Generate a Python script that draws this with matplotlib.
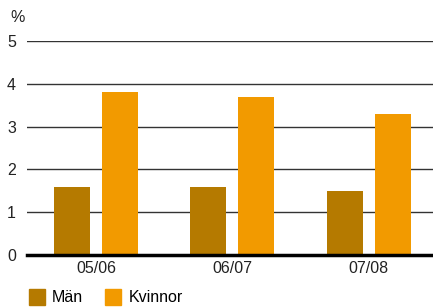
import matplotlib.pyplot as plt
import matplotlib.patches as mpatches
import numpy as np

plt.rcParams['font.family'] = ['Liberation Sans', 'DejaVu Sans']

years = ["05/06", "06/07", "07/08"]
man = [1.6, 1.6, 1.5]
kvinnor = [3.8, 3.7, 3.3]
series_names = ["Män", "Kvinnor"]
colors = ["#B57A00", "#F29A00"]

fig = plt.figure(figsize=(4.33, 3.07), dpi=100)
ax = fig.add_axes([27 / 433, 1 - 255 / 307, 406 / 433, 214 / 307])

x = np.arange(len(years))
w = 0.264
ax.bar(x - 0.176, man, w, color=colors[0], zorder=3)
ax.bar(x + 0.176, kvinnor, w, color=colors[1], zorder=3)

ax.set_xlim(-0.505, 2.47)
ax.set_ylim(0, 5)
ax.set_yticks(range(6))
ax.set_xticks(x)
ax.set_xticklabels(years)
for s in ax.spines.values():
    s.set_visible(False)
ax.grid(axis='y', color='#333333', linewidth=1, zorder=1)
ax.axhline(0, color='black', linewidth=2.5, zorder=4, clip_on=False)
ax.tick_params(axis='both', length=0, labelsize=11.5, colors='#222222')
ax.tick_params(axis='y', pad=8)
ax.tick_params(axis='x', pad=4)

fig.text(10 / 433, 1 - 17 / 307, "%", fontsize=11.5, va='center', color='#222222')

handles = [mpatches.Patch(color=c, label=n) for c, n in zip(colors, series_names)]
fig.legend(handles=handles, loc='lower left', bbox_to_anchor=(27 / 433, 0),
           ncol=2, frameon=False, fontsize=11.5, handlelength=1.0, handleheight=1.1,
           handletextpad=0.45, columnspacing=1.4, borderpad=0.1, borderaxespad=0)

fig.savefig("out.png", dpi=100)
